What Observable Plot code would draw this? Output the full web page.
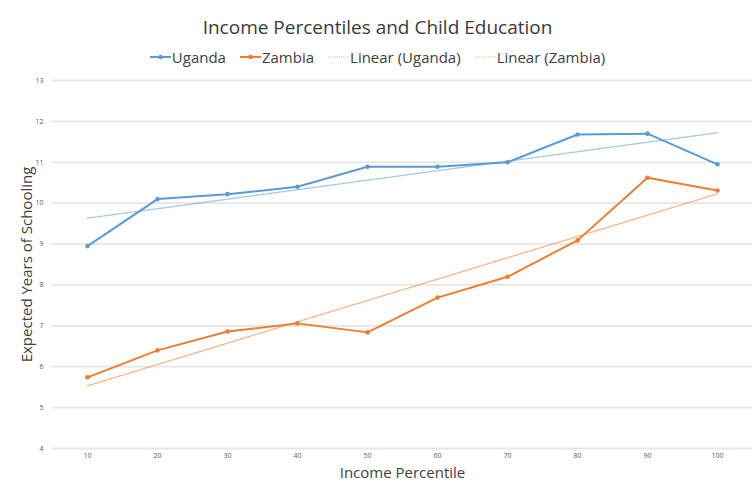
<!DOCTYPE html>
<html>
<head>
<meta charset="utf-8">
<script src="https://cdn.jsdelivr.net/npm/d3@7"></script>
<script src="https://cdn.jsdelivr.net/npm/@observablehq/plot@0.6"></script>
<style>
  html, body { margin: 0; padding: 0; background: #fff; }
  body { width: 755px; height: 489px; overflow: hidden; font-family: "Open Sans", sans-serif; color: #404040; }
  #title { position: absolute; left: 0; width: 755px; top: 14px; text-align: center; font-size: 19px; line-height: 26px; color: #3a3a3a; }
  #legend { position: absolute; left: 0; width: 755px; top: 47px; display: flex; justify-content: center; font-size: 15px; line-height: 20px; color: #404040; }
  .item { display: flex; align-items: center; margin: 0 7px; }
  .item svg { margin-right: 1px; }
  #chart { position: absolute; left: 0; top: 70px; }
</style>
</head>
<body>
<div id="title">Income Percentiles and Child Education</div>
<div id="legend"></div>
<div id="chart"></div>
<script>
const percentiles = [10, 20, 30, 40, 50, 60, 70, 80, 90, 100];
const uganda = [8.95, 10.1, 10.22, 10.4, 10.89, 10.89, 11.0, 11.68, 11.7, 10.95];
const zambia = [5.74, 6.4, 6.86, 7.06, 6.84, 7.69, 8.2, 9.09, 10.62, 10.31];
const yTicks = [4, 5, 6, 7, 8, 9, 10, 11, 12, 13];
const seriesNames = ["Uganda", "Zambia"];
const seriesColors = ["#5b9bd5", "#ed7d31"];

const rows = [];
percentiles.forEach((p, i) => {
  rows.push({series: "Uganda", x: p, y: uganda[i]});
  rows.push({series: "Zambia", x: p, y: zambia[i]});
});

// Legend
const legend = document.getElementById("legend");
const legendItems = [
  {label: "Uganda", color: seriesColors[0], dotted: false},
  {label: "Zambia", color: seriesColors[1], dotted: false},
  {label: "Linear (Uganda)", color: seriesColors[0], dotted: true},
  {label: "Linear (Zambia)", color: seriesColors[1], dotted: true}
];
for (const it of legendItems) {
  const d = document.createElement("div");
  d.className = "item";
  d.innerHTML = `<svg width="21" height="10">` +
    (it.dotted
      ? `<line x1="0" x2="21" y1="5" y2="5" stroke="${it.color}" stroke-width="1.2" stroke-dasharray="1,1.2" opacity="0.6"/>`
      : `<line x1="0" x2="21" y1="5" y2="5" stroke="${it.color}" stroke-width="2"/><circle cx="10.5" cy="5" r="2.3" fill="${it.color}"/>`) +
    `</svg><span>${it.label}</span>`;
  legend.appendChild(d);
}

const chart = Plot.plot({
  width: 755,
  height: 419,
  marginTop: 10,
  marginBottom: 41,
  marginLeft: 52,
  marginRight: 3,
  style: {fontFamily: "Open Sans, sans-serif", background: "#fff"},
  x: {domain: [5, 105], ticks: percentiles, tickSize: 0, label: null},
  y: {domain: [4, 13], ticks: yTicks, tickSize: 0, label: null},
  color: {domain: seriesNames, range: seriesColors},
  marks: [
    Plot.gridY(yTicks, {stroke: "#e6e6e6", strokeOpacity: 1, strokeWidth: 1.8}),
    Plot.axisX(percentiles, {tickSize: 0, tickPadding: 5, fontSize: 7, fill: "#595959", label: null}),
    Plot.axisY(yTicks, {tickSize: 0, tickPadding: 9, fontSize: 7, fill: "#595959", label: null}),
    Plot.linearRegressionY(rows, {x: "x", y: "y", stroke: "series", ci: 0, strokeWidth: 1.4, strokeDasharray: "1.3,1.5", strokeOpacity: 0.6}),
    Plot.line(rows, {x: "x", y: "y", stroke: "series", strokeWidth: 2}),
    Plot.dot(rows, {x: "x", y: "y", fill: "series", r: 2.3}),
    Plot.text(["Income Percentile"], {frameAnchor: "bottom", dy: 41 - 12, fontSize: 15, fill: "#404040", text: d => d}),
    Plot.text(["Expected Years of Schooling"], {frameAnchor: "left", textAnchor: "middle", dx: -25, rotate: -90, fontSize: 15, fill: "#404040", text: d => d})
  ]
});
document.getElementById("chart").appendChild(chart);
</script>
</body>
</html>
